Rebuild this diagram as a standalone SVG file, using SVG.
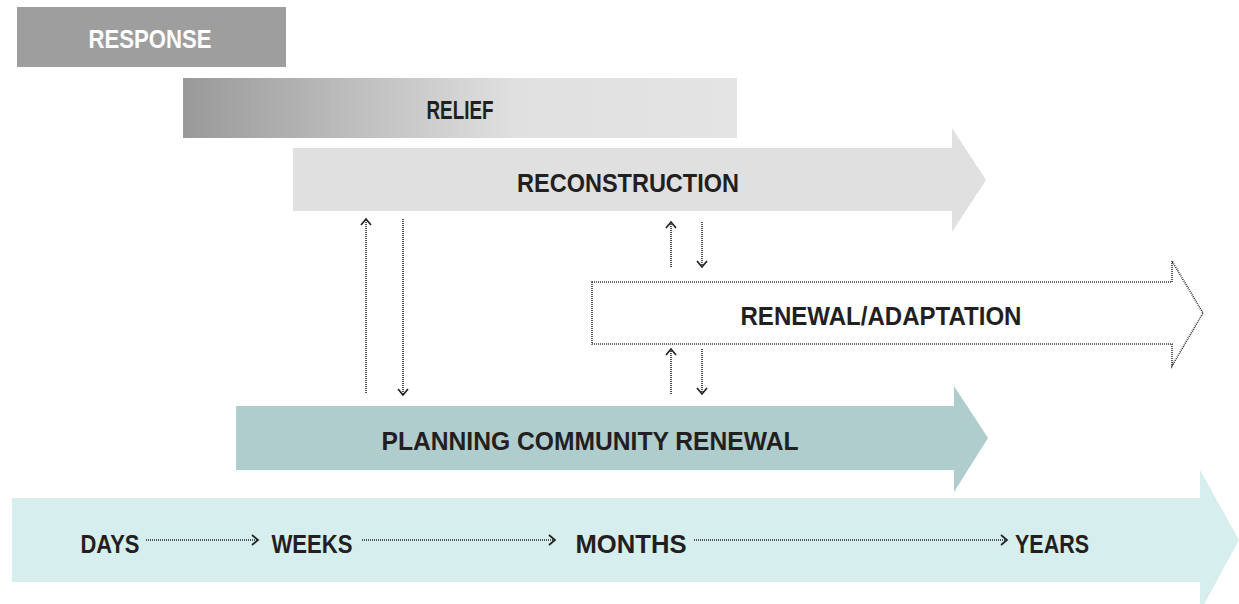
<svg xmlns="http://www.w3.org/2000/svg" width="1239" height="604" viewBox="0 0 1239 604">
<style>
.lbl{font-family:"Liberation Sans",Arial,sans-serif;font-weight:bold;font-size:26px;fill:#231f20;text-anchor:middle}
.dot{fill:none;stroke:#222;stroke-width:1.6;stroke-dasharray:1 1}
</style>
<defs>
<linearGradient id="reliefGrad" x1="0" y1="0" x2="1" y2="0">
<stop offset="0" stop-color="#999999"/>
<stop offset="0.6" stop-color="#e0e0e0"/>
<stop offset="1" stop-color="#e4e4e4"/>
</linearGradient>
<marker id="chev" viewBox="0 0 12 12" refX="10" refY="6" markerWidth="12" markerHeight="12" markerUnits="userSpaceOnUse" orient="auto">
<polyline points="4,1 10,6 4,11" fill="none" stroke="#222" stroke-width="1.7"/>
</marker>
</defs>
<g id="timeline">
<path d="M12,498 H1200 V470 L1239,540 L1200,612 V582 H12 Z" fill="#d6eeed"/>
<text class="lbl" x="110" y="553" textLength="59" lengthAdjust="spacingAndGlyphs">DAYS</text>
<text class="lbl" x="312" y="553" textLength="81" lengthAdjust="spacingAndGlyphs">WEEKS</text>
<text class="lbl" x="631" y="553" textLength="111" lengthAdjust="spacingAndGlyphs">MONTHS</text>
<text class="lbl" x="1052" y="553" textLength="74" lengthAdjust="spacingAndGlyphs">YEARS</text>
</g>
<g id="response">
<rect x="17" y="7" width="269" height="60" fill="#9e9e9e"/>
<text class="lbl" x="150" y="48" style="fill:#ffffff" textLength="123" lengthAdjust="spacingAndGlyphs">RESPONSE</text>
</g>
<g id="relief">
<rect x="183" y="78" width="554" height="60" fill="url(#reliefGrad)"/>
<text class="lbl" x="460" y="119" textLength="67" lengthAdjust="spacingAndGlyphs">RELIEF</text>
</g>
<g id="reconstruction">
<path d="M293,148 H952 V128 L986,180 L952,232 V211 H293 Z" fill="#e0e0e0"/>
<text class="lbl" x="628" y="192" textLength="222" lengthAdjust="spacingAndGlyphs">RECONSTRUCTION</text>
</g>
<g id="renewal">
<path d="M592,282 H1172 V261 L1203,313 L1172,366 V344 H592 Z" fill="#ffffff" stroke="#333" stroke-width="1.6" stroke-dasharray="1 1"/>
<text class="lbl" x="881" y="325" textLength="281" lengthAdjust="spacingAndGlyphs">RENEWAL/ADAPTATION</text>
</g>
<g id="planning">
<path d="M236,406 H954 V386 L988,438 L954,492 V470 H236 Z" fill="#afcdcd"/>
<text class="lbl" x="590" y="450" textLength="417" lengthAdjust="spacingAndGlyphs">PLANNING COMMUNITY RENEWAL</text>
</g>
<g id="connectors">
<line class="dot" x1="366" y1="393" x2="366" y2="219" marker-end="url(#chev)"/>
<line class="dot" x1="403" y1="219" x2="403" y2="395" marker-end="url(#chev)"/>
<line class="dot" x1="671" y1="267" x2="671" y2="222" marker-end="url(#chev)"/>
<line class="dot" x1="702" y1="222" x2="702" y2="267" marker-end="url(#chev)"/>
<line class="dot" x1="671" y1="394" x2="671" y2="349" marker-end="url(#chev)"/>
<line class="dot" x1="702" y1="349" x2="702" y2="394" marker-end="url(#chev)"/>
<line class="dot" x1="146" y1="540" x2="258" y2="540" marker-end="url(#chev)"/>
<line class="dot" x1="362" y1="540" x2="555" y2="540" marker-end="url(#chev)"/>
<line class="dot" x1="694" y1="540" x2="1007" y2="540" marker-end="url(#chev)"/>
</g>
</svg>
